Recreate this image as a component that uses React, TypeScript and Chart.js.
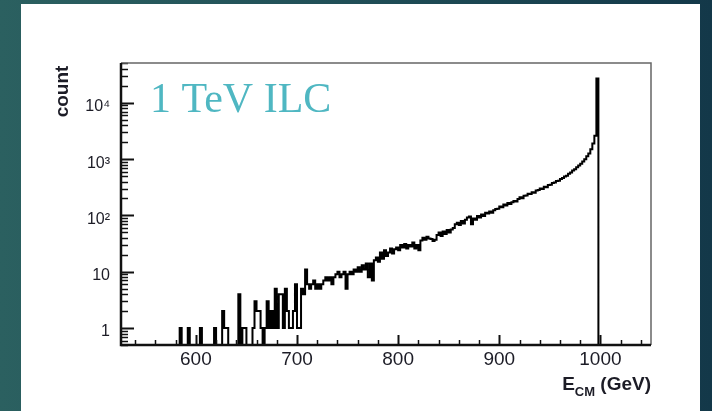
import { useEffect, useRef } from 'react';
import { Chart, registerables } from 'chart.js';

Chart.register(...registerables);

// ---------- data ----------
const binStart = 580; // GeV, left edge of first bin
const binWidth = 2; // GeV
const counts = [
  0, 0, 0, 1, 0, 0, 0, 1, 0, 0,
  0, 0, 0, 1, 0, 0, 0, 0, 0, 0,
  1, 0, 0, 0, 2, 1, 1, 0, 0, 0,
  0, 0, 4, 0, 1, 1, 0, 0, 0, 1,
  3, 2, 2, 1, 0, 1, 3, 1, 2, 1,
  5, 1, 4, 4, 1, 5, 2, 1, 1, 2,
  6, 1, 1, 5, 4, 11, 6, 5, 6, 7,
  5, 6, 5, 6, 7, 8, 7, 8, 6, 8,
  9, 10, 8, 9, 10, 5, 9, 10, 9, 11,
  10, 12, 10, 13, 11, 14, 8, 14, 7, 16,
  18, 15, 22, 17, 24, 19, 22, 26, 21, 25,
  27, 24, 30, 27, 31, 26, 30, 28, 33, 26,
  30, 24, 36, 40, 37, 42, 39, 38, 35, 37,
  45, 50, 43, 52, 47, 55, 50, 56, 60, 70,
  74, 68, 80, 72, 84, 92, 96, 70, 88, 84,
  98, 92, 104, 98, 112, 108, 118, 112, 124, 130,
  132, 144, 140, 156, 150, 166, 160, 172, 180, 176,
  196, 210, 202, 224, 226, 244, 240, 258, 252, 276,
  282, 300, 296, 322, 318, 346, 350, 378, 384, 410,
  414, 446, 462, 494, 508, 548, 580, 626, 664, 720,
  770, 830, 910, 1000, 1130, 1260, 1500, 1900, 2600, 27000,
];
const xMin = 526;
const xMax = 1050;
const yMin = 0.5;
const yMax = 51000;
const xTickValues = [600, 700, 800, 900, 1000];
const xTickLabels = ['600', '700', '800', '900', '1000'];
const yTickValues = [1, 10, 100, 1000, 10000];
const yTickLabels = ['1', '10', '10²', '10³', '10⁴'];
const yTitle = 'count';
const xTitleMain = 'E';
const xTitleSub = 'CM';
const xTitleUnit = ' (GeV)';
const annotation = '1 TeV ILC';

// ---------- helpers ----------
function buildPoints() {
  const pts: { x: number; y: number }[] = [{ x: xMin, y: yMin }];
  counts.forEach((c, i) => {
    pts.push({ x: binStart + i * binWidth, y: c > 0 ? c : yMin });
  });
  const end = binStart + counts.length * binWidth;
  pts.push({ x: end, y: yMin });
  pts.push({ x: xMax, y: yMin });
  return pts;
}

const SANS = "'Liberation Sans', Arial, Helvetica, sans-serif";
const TEXT = '#1c1c26';

const rootPlugin = {
  id: 'rootStyle',
  afterDatasetsDraw(chart: any) {
    const { ctx, chartArea: a, scales } = chart;
    const x = scales.x;
    const y = scales.y;
    ctx.save();
    ctx.strokeStyle = '#111';
    // x ticks (inward)
    for (let v = 540; v <= 1040; v += 20) {
      const px = Math.round(x.getPixelForValue(v)) + 0.5;
      const major = v % 100 === 0;
      ctx.lineWidth = major ? 2 : 1.5;
      ctx.beginPath();
      ctx.moveTo(px, a.bottom);
      ctx.lineTo(px, a.bottom - (major ? 10 : 5));
      ctx.stroke();
    }
    // y ticks (inward)
    for (let d = -1; d <= 4; d++) {
      for (let m = 1; m <= 9; m++) {
        const v = m * Math.pow(10, d);
        if (v < y.min - 1e-9 || v > y.max) continue;
        const py = Math.round(y.getPixelForValue(v)) + 0.5;
        const major = m === 1;
        ctx.lineWidth = major ? 2 : 1.5;
        ctx.beginPath();
        ctx.moveTo(a.left, py);
        ctx.lineTo(a.left + (major ? 13 : 7), py);
        ctx.stroke();
      }
    }
    // frame
    ctx.strokeStyle = '#666';
    ctx.lineWidth = 1.5;
    ctx.beginPath();
    ctx.moveTo(a.left, a.top);
    ctx.lineTo(a.right, a.top);
    ctx.lineTo(a.right, a.bottom);
    ctx.stroke();
    ctx.strokeStyle = '#111';
    ctx.lineWidth = 2.5;
    ctx.beginPath();
    ctx.moveTo(a.left, a.top);
    ctx.lineTo(a.left, a.bottom);
    ctx.lineTo(a.right, a.bottom);
    ctx.stroke();
    ctx.restore();
  },
  afterDraw(chart: any) {
    const { ctx, chartArea: a } = chart;
    ctx.save();
    // y title
    ctx.fillStyle = TEXT;
    ctx.font = `bold 19px ${SANS}`;
    ctx.translate(68, 91.5);
    ctx.rotate(-Math.PI / 2);
    ctx.textAlign = 'center';
    ctx.textBaseline = 'alphabetic';
    ctx.fillText(yTitle, 0, 0);
    ctx.restore();

    // x title, right aligned at frame right
    ctx.save();
    ctx.fillStyle = TEXT;
    ctx.textBaseline = 'alphabetic';
    ctx.textAlign = 'left';
    const mainFont = `bold 19px ${SANS}`;
    const subFont = `bold 13px ${SANS}`;
    ctx.font = mainFont;
    const wMain = ctx.measureText(xTitleMain).width;
    const wUnit = ctx.measureText(xTitleUnit).width;
    ctx.font = subFont;
    const wSub = ctx.measureText(xTitleSub).width;
    let px = a.right - (wMain + wSub + wUnit);
    const base = 390;
    ctx.font = mainFont;
    ctx.fillText(xTitleMain, px, base);
    px += wMain;
    ctx.font = subFont;
    ctx.fillText(xTitleSub, px, base + 6);
    px += wSub;
    ctx.font = mainFont;
    ctx.fillText(xTitleUnit, px, base);
    ctx.restore();

    // annotation
    ctx.save();
    ctx.fillStyle = '#4fb7c2';
    ctx.font = "42px 'Liberation Serif', 'Times New Roman', serif";
    ctx.textAlign = 'left';
    ctx.textBaseline = 'alphabetic';
    ctx.fillText(annotation, 150, 112);
    ctx.restore();
  },
};

export default function App() {
  const canvasRef = useRef<HTMLCanvasElement | null>(null);

  useEffect(() => {
    document.body.style.margin = '0';
    const canvas = canvasRef.current;
    if (!canvas) return;
    const chart = new Chart(canvas, {
      type: 'line',
      data: {
        datasets: [
          {
            data: buildPoints(),
            borderColor: '#000',
            borderWidth: 2,
            pointRadius: 0,
            stepped: 'after',
            fill: false,
            tension: 0,
          },
        ],
      },
      options: {
        animation: false,
        responsive: false,
        events: [],
        layout: { padding: { left: 0, top: 63, right: 61, bottom: 0 } },
        plugins: { legend: { display: false }, tooltip: { enabled: false } },
        scales: {
          x: {
            type: 'linear',
            min: xMin,
            max: xMax,
            grid: { display: false, drawTicks: false },
            border: { display: false },
            afterBuildTicks: (s: any) => {
              s.ticks = xTickValues.map((v) => ({ value: v }));
            },
            afterFit: (s: any) => {
              s.height = 66;
            },
            ticks: {
              autoSkip: false,
              maxRotation: 0,
              padding: 3,
              color: TEXT,
              font: { family: SANS, size: 19 },
              callback: (_v: any, i: number) => xTickLabels[i] ?? '',
            },
          },
          y: {
            type: 'logarithmic',
            min: yMin,
            max: yMax,
            grid: { display: false, drawTicks: false },
            border: { display: false },
            afterBuildTicks: (s: any) => {
              s.ticks = yTickValues.map((v) => ({ value: v }));
            },
            afterFit: (s: any) => {
              s.width = 121;
            },
            ticks: {
              autoSkip: false,
              padding: 11,
              labelOffset: 4,
              color: TEXT,
              font: { family: SANS, size: 16 },
              callback: (_v: any, i: number) => yTickLabels[i] ?? '',
            },
          },
        },
      },
      plugins: [rootPlugin],
    });
    return () => chart.destroy();
  }, []);

  return (
    <div
      style={{
        position: 'relative',
        width: 712,
        height: 411,
        overflow: 'hidden',
        background: 'linear-gradient(90deg, #2b6060 0%, #215058 45%, #133849 100%)',
      }}
    >
      <div
        style={{
          position: 'absolute',
          left: 21,
          top: 4,
          width: 679,
          height: 407,
          background: '#ffffff',
        }}
      />
      <canvas
        ref={canvasRef}
        width={712}
        height={411}
        style={{ position: 'absolute', left: 0, top: 0, width: 712, height: 411 }}
      />
    </div>
  );
}
